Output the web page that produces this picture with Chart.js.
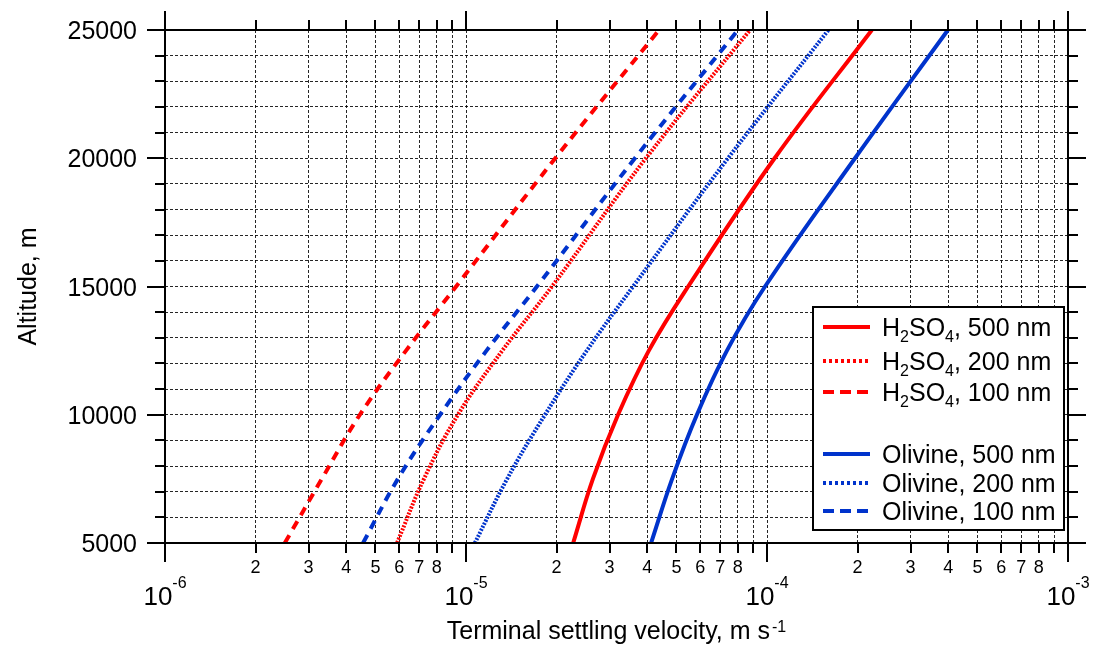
<!DOCTYPE html>
<html>
<head>
<meta charset="utf-8">
<title>Terminal settling velocity vs altitude</title>
<script src="https://cdn.jsdelivr.net/npm/chart.js@4.4.1/dist/chart.umd.min.js"></script>
<style>
  html, body { margin: 0; padding: 0; background: #fff; }
  #wrap { width: 1094px; height: 650px; }
</style>
</head>
<body>
<div id="wrap"><canvas id="settlingChart" width="1094" height="650"></canvas></div>
<script>
const altitudes = [5000, 7500, 10000, 12500, 15000, 20000, 25000];

// Terminal settling velocity, m/s
const h2so4_500 = [2.27e-5, 2.64e-5, 3.20e-5, 4.05e-5, 5.47e-5, 1.06e-4, 2.23e-4];
const h2so4_200 = [5.90e-6, 7.25e-6, 9.40e-6, 1.32e-5, 1.93e-5, 3.96e-5, 8.78e-5];
const h2so4_100 = [2.50e-6, 3.32e-6, 4.44e-6, 6.32e-6, 9.27e-6, 1.98e-5, 4.38e-5];
const olivine_500 = [4.12e-5, 4.84e-5, 5.85e-5, 7.36e-5, 9.85e-5, 1.96e-4, 3.99e-4];
const olivine_200 = [1.07e-5, 1.37e-5, 1.83e-5, 2.52e-5, 3.59e-5, 7.42e-5, 1.60e-4];
const olivine_100 = [4.55e-6, 5.94e-6, 8.20e-6, 1.17e-5, 1.72e-5, 3.64e-5, 8.01e-5];

// Axis ticks
const decades = [1e-6, 1e-5, 1e-4, 1e-3];
const decadeExponents = ['-6', '-5', '-4', '-3'];
const minorSteps = [2, 3, 4, 5, 6, 7, 8, 9];
const minorLabels = ['2', '3', '4', '5', '6', '7', '8'];
const altitudeLabels = [5000, 10000, 15000, 20000, 25000];

const RED = '#ff0000';
const BLUE = '#0033cc';
const FONT = '"Liberation Sans", Arial, Helvetica, sans-serif';

const xTickValues = [];
decades.forEach((d, i) => {
    xTickValues.push(d);
    if (i < decades.length - 1) minorSteps.forEach(m => xTickValues.push(m * d));
});
const altitudeTicks = [];
for (let a = altitudeLabels[0]; a <= altitudeLabels[altitudeLabels.length - 1]; a += 1000) altitudeTicks.push(a);

function toPoints(vals) {
    return vals.map((v, i) => ({ x: v, y: altitudes[i] }));
}

const SOLID = [], DOTTED = [2, 1.4], DASHED = [9, 7];
function series(label, vals, color, dash, legendDash) {
    return {
        label: label,
        data: toPoints(vals),
        borderColor: color,
        backgroundColor: color,
        borderWidth: 4,
        borderDash: dash,
        borderCapStyle: 'butt',
        pointRadius: 0,
        showLine: true,
        tension: 0.4,
        legendDash: legendDash
    };
}

const datasets = [
    series('H₂SO₄, 500 nm', h2so4_500, RED, SOLID, []),
    series('H₂SO₄, 200 nm', h2so4_200, RED, DOTTED, [3, 3]),
    series('H₂SO₄, 100 nm', h2so4_100, RED, DASHED, [11, 6]),
    series('Olivine, 500 nm', olivine_500, BLUE, SOLID, []),
    series('Olivine, 200 nm', olivine_200, BLUE, DOTTED, [3, 3]),
    series('Olivine, 100 nm', olivine_100, BLUE, DASHED, [11, 6])
];

// split a label into runs, turning unicode sub digits into small lowered text
function runs(text, size) {
    const subs = { '₂': '2', '₄': '4' };
    const out = [];
    for (const ch of text) {
        const isSub = ch in subs;
        const last = out[out.length - 1];
        if (last && last.sub === isSub) last.text += isSub ? subs[ch] : ch;
        else out.push({ text: isSub ? subs[ch] : ch, sub: isSub });
    }
    out.forEach(r => {
        r.font = (r.sub ? Math.round(size * 0.64) : size) + 'px ' + FONT;
        r.dy = r.sub ? 6 : 0;
    });
    return out;
}

function drawRuns(ctx, rs, x, y, align) {
    let total = 0;
    rs.forEach(r => { ctx.font = r.font; r.w = ctx.measureText(r.text).width; total += r.w; });
    let cx = align === 'center' ? x - total / 2 : x;
    ctx.textAlign = 'left';
    ctx.textBaseline = 'alphabetic';
    rs.forEach(r => { ctx.font = r.font; ctx.fillText(r.text, cx, y + r.dy); cx += r.w; });
}

const framePlugin = {
    id: 'igorFrame',
    afterDraw(chart) {
        const { ctx, chartArea: a, scales: { x, y } } = chart;
        ctx.save();
        ctx.strokeStyle = '#000';
        ctx.fillStyle = '#000';
        ctx.lineWidth = 2;
        ctx.strokeRect(a.left, a.top, a.right - a.left, a.bottom - a.top);

        // outward ticks on all four sides
        ctx.beginPath();
        xTickValues.forEach(v => {
            const px = Math.round(x.getPixelForValue(v));
            const len = decades.includes(v) ? 19 : 10;
            ctx.moveTo(px, a.bottom); ctx.lineTo(px, a.bottom + len);
            ctx.moveTo(px, a.top); ctx.lineTo(px, a.top - len);
        });
        altitudeTicks.forEach(v => {
            const py = Math.round(y.getPixelForValue(v));
            const len = altitudeLabels.includes(v) ? 18 : 10;
            ctx.moveTo(a.left, py); ctx.lineTo(a.left - len, py);
            ctx.moveTo(a.right, py); ctx.lineTo(a.right + len, py);
        });
        ctx.stroke();

        // y tick labels
        ctx.font = '25px ' + FONT;
        ctx.textAlign = 'right';
        ctx.textBaseline = 'alphabetic';
        altitudeLabels.forEach(v => {
            ctx.fillText(String(v), a.left - 28, y.getPixelForValue(v) + 9);
        });

        // x minor labels
        ctx.font = '18px ' + FONT;
        ctx.textAlign = 'center';
        decades.slice(0, -1).forEach(d => {
            minorLabels.forEach(m => {
                ctx.fillText(m, x.getPixelForValue(Number(m) * d), a.bottom + 30);
            });
        });

        // decade labels 10^n
        decades.forEach((d, i) => {
            const px = x.getPixelForValue(d);
            ctx.font = '26px ' + FONT;
            const w1 = ctx.measureText('10').width;
            ctx.font = '16px ' + FONT;
            const w2 = ctx.measureText(decadeExponents[i]).width;
            const left = px - (w1 + w2) / 2;
            ctx.textAlign = 'left';
            ctx.font = '26px ' + FONT;
            ctx.fillText('10', left, a.bottom + 62);
            ctx.font = '16px ' + FONT;
            ctx.fillText(decadeExponents[i], left + w1, a.bottom + 45);
        });

        // x axis title with superscript
        const tMain = 'Terminal settling velocity, m s';
        const tSup = '-1';
        ctx.font = '25px ' + FONT;
        const tw1 = ctx.measureText(tMain).width;
        ctx.font = '16px ' + FONT;
        const tw2 = ctx.measureText(tSup).width;
        const tx = (a.left + a.right) / 2 - (tw1 + tw2 + 2) / 2;
        ctx.font = '25px ' + FONT;
        ctx.fillText(tMain, tx, a.bottom + 96);
        ctx.font = '16px ' + FONT;
        ctx.fillText(tSup, tx + tw1 + 2, a.bottom + 89);

        // y axis title
        ctx.save();
        ctx.translate(36, (a.top + a.bottom) / 2);
        ctx.rotate(-Math.PI / 2);
        ctx.font = '25px ' + FONT;
        ctx.textAlign = 'center';
        ctx.fillText('Altitude, m', 0, 0);
        ctx.restore();

        // legend box
        const box = { left: a.right - 255, top: a.bottom - 236, right: a.right - 4, bottom: a.bottom - 13 };
        ctx.fillStyle = '#fff';
        ctx.fillRect(box.left, box.top, box.right - box.left, box.bottom - box.top);
        ctx.strokeStyle = '#000';
        ctx.lineWidth = 2;
        ctx.strokeRect(box.left, box.top, box.right - box.left, box.bottom - box.top);
        const rowOffsets = [20, 54, 85, 147, 176, 204];
        chart.data.datasets.forEach((ds, i) => {
            const ry = box.top + rowOffsets[i];
            ctx.save();
            ctx.strokeStyle = ds.borderColor;
            ctx.lineWidth = 4;
            ctx.lineCap = 'butt';
            ctx.setLineDash(ds.legendDash);
            ctx.beginPath();
            ctx.moveTo(box.left + 10, ry);
            ctx.lineTo(box.left + 57, ry);
            ctx.stroke();
            ctx.restore();
            ctx.fillStyle = '#000';
            drawRuns(ctx, runs(ds.label, 25), box.left + 69, ry + 9, 'left');
        });
        ctx.restore();
    }
};

const ctx = document.getElementById('settlingChart');
new Chart(ctx, {
    type: 'scatter',
    data: { datasets: datasets },
    options: {
        responsive: false,
        animation: false,
        layout: { padding: { left: 165, top: 30, right: 26, bottom: 107 } },
        plugins: {
            legend: { display: false },
            tooltip: { enabled: false }
        },
        scales: {
            x: {
                type: 'logarithmic',
                min: decades[0],
                max: decades[decades.length - 1],
                afterBuildTicks: scale => { scale.ticks = xTickValues.map(v => ({ value: v })); },
                ticks: { display: false },
                grid: { color: 'rgba(0,0,0,0.85)', lineWidth: 1, drawTicks: false },
                border: { display: false, dash: [3, 2] }
            },
            y: {
                type: 'linear',
                min: altitudeTicks[0],
                max: altitudeTicks[altitudeTicks.length - 1],
                afterBuildTicks: scale => { scale.ticks = altitudeTicks.map(v => ({ value: v })); },
                ticks: { display: false },
                grid: { color: 'rgba(0,0,0,0.85)', lineWidth: 1, drawTicks: false },
                border: { display: false, dash: [3, 2] }
            }
        }
    },
    plugins: [framePlugin]
});
</script>
</body>
</html>
